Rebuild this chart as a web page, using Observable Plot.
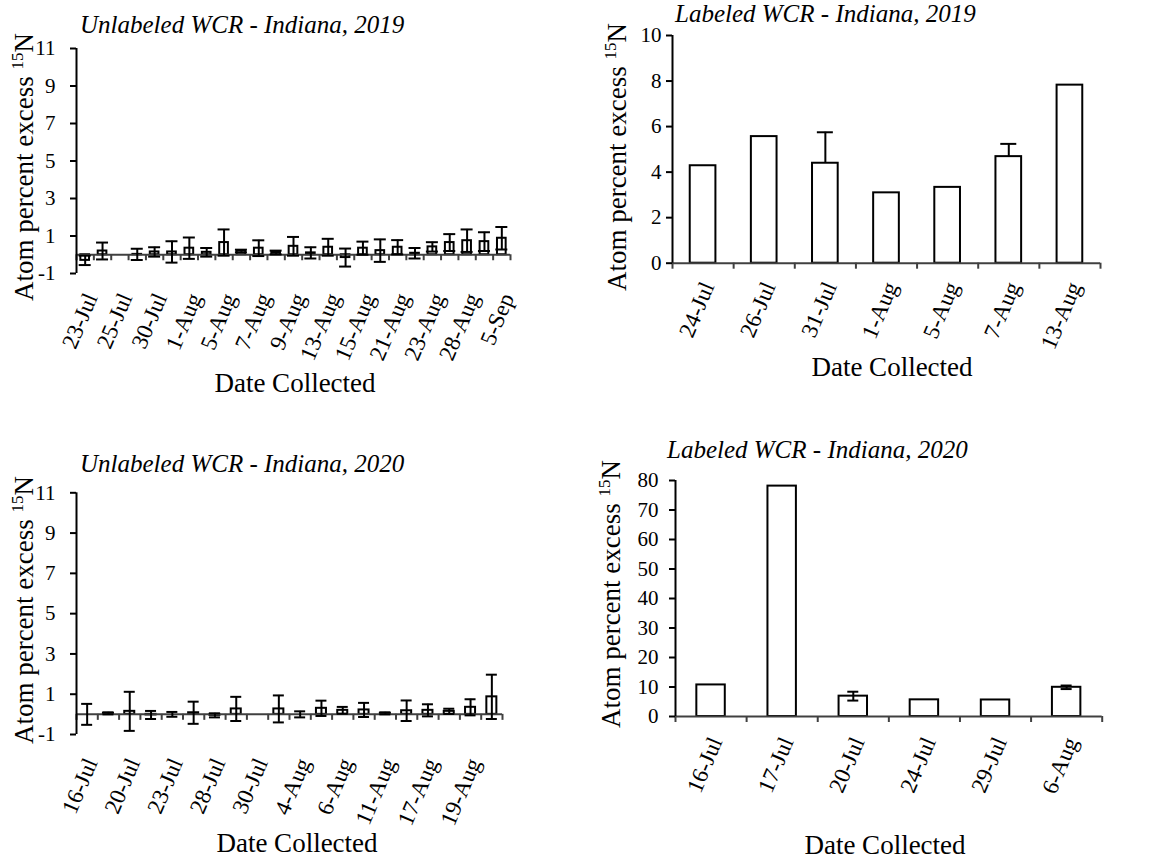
<!DOCTYPE html>
<html><head><meta charset="utf-8">
<script src="https://cdn.jsdelivr.net/npm/d3@7"></script>
<script src="https://cdn.jsdelivr.net/npm/@observablehq/plot@0.6"></script>
<style>
body{margin:0;background:#fff;}
#root{position:relative;width:1167px;height:867px;overflow:hidden;font-family:"Liberation Serif","Times New Roman",Times,"Nimbus Roman","DejaVu Serif",serif;color:#000;background:#fff}
.abs{position:absolute;white-space:nowrap;line-height:1}
.title{font-style:italic;font-size:25px}
.ylab{font-size:27px;transform:translate(-50%,-50%) rotate(-90deg)}
.ylab sup{font-size:17px;vertical-align:0.55em;line-height:0}
.xlab{font-size:27px;transform:translateX(-50%)}
.panel{position:absolute}
</style></head><body><div id="root"></div>
<script>
// ---- Unlabeled WCR - Indiana, 2019 (25 collections, every other date labeled)
const u19Ticks = ["23-Jul","25-Jul","30-Jul","1-Aug","5-Aug","7-Aug","9-Aug","13-Aug","15-Aug","21-Aug","23-Aug","28-Aug","5-Sep"];
const u19Mean = [-0.3,0.2,0,0.02,0.15,0.15,0.35,0.13,0.65,0.2,0.35,0.12,0.45,0.1,0.4,-0.15,0.35,0.22,0.4,0.08,0.42,0.65,0.75,0.7,0.88];
const u19Err  = [0.25,0.45,0,0.3,0.25,0.57,0.57,0.23,0.7,0.07,0.42,0.1,0.5,0.3,0.45,0.48,0.35,0.6,0.38,0.28,0.25,0.45,0.6,0.5,0.6];
// ---- Labeled WCR - Indiana, 2019
const l19Dates = ["24-Jul","26-Jul","31-Jul","1-Aug","5-Aug","7-Aug","13-Aug"];
const l19Mean = [4.28,5.56,4.39,3.09,3.33,4.68,7.82];
const l19Err  = [0,0,1.36,0,0,0.56,0];
// ---- Unlabeled WCR - Indiana, 2020 (20 collections, every other date labeled)
const u20Ticks = ["16-Jul","20-Jul","23-Jul","28-Jul","30-Jul","4-Aug","6-Aug","11-Aug","17-Aug","19-Aug"];
const u20Mean = [0,0.05,0.15,-0.03,0,0.08,-0.05,0.27,0,0.27,0,0.3,0.2,0.22,0.05,0.18,0.2,0.15,0.35,0.87];
const u20Err  = [0.52,0.05,0.97,0.2,0.12,0.55,0.1,0.6,0,0.67,0.15,0.38,0.17,0.35,0.05,0.51,0.3,0.13,0.4,1.1];
// ---- Labeled WCR - Indiana, 2020
const l20Dates = ["16-Jul","17-Jul","20-Jul","24-Jul","29-Jul","6-Aug"];
const l20Mean = [10.7,78.1,6.9,5.65,5.6,9.9];
const l20Err  = [0,0,1.5,0,0,0.6];

const yTicksU = [-1,1,3,5,7,9,11];
const yTicksL19 = [0,2,4,6,8,10];
const yTicksL20 = [0,10,20,30,40,50,60,70,80];

const AX = "#404040";
const FONT = '"Liberation Serif","Times New Roman",Times,"Nimbus Roman","DejaVu Serif",serif';
const root = document.getElementById("root");

function panel(cfg){
  const n = cfg.mean.length;
  const rows = cfg.mean.map((v,i)=>({i, v, e: cfg.err[i]}));
  const errRows = rows.filter(d=>d.e>0);
  const tickPos = cfg.ticks.map((t,k)=>k*cfg.every+0.5);
  const fmt = new Map(tickPos.map((p,k)=>[p,cfg.ticks[k]]));
  const bf = cfg.barFrac;
  const lo = d => cfg.plusOnly ? d.v : d.v - d.e;
  const chart = Plot.plot({
    width: cfg.w, height: cfg.h,
    marginLeft: cfg.ml, marginRight: cfg.mr, marginTop: cfg.mt, marginBottom: cfg.mb,
    style: {fontFamily: FONT, background: "transparent", color: "black", overflow: "visible"},
    x: {type: "linear", domain: [0, n]},
    y: {domain: cfg.ydom},
    marks: [
      Plot.rectY(rows, {x1: d=>d.i+(1-bf)/2, x2: d=>d.i+(1+bf)/2, y1: 0, y2: "v", fill: "white", stroke: "black", strokeWidth: 2}),
      Plot.ruleY([0], {x1: 0, x2: n, stroke: AX, strokeWidth: 2}),
      Plot.ruleX(d3.range(n+1), {x: d=>d, y1: 0, y2: 0, insetBottom: -6, stroke: AX, strokeWidth: 2}),
      Plot.ruleX([0], {y1: cfg.ydom[0], y2: cfg.ydom[1], stroke: "black", strokeWidth: 2}),
      Plot.ruleX(errRows, {x: d=>d.i+0.5, y1: lo, y2: d=>d.v+d.e, stroke: "black", strokeWidth: 2}),
      Plot.ruleY(errRows, {y: d=>d.v+d.e, x1: d=>d.i+0.5, x2: d=>d.i+0.5, insetLeft: -cfg.cap/2, insetRight: -cfg.cap/2, stroke: "black", strokeWidth: 2}),
      cfg.plusOnly ? null : Plot.ruleY(errRows, {y: d=>d.v-d.e, x1: d=>d.i+0.5, x2: d=>d.i+0.5, insetLeft: -cfg.cap/2, insetRight: -cfg.cap/2, stroke: "black", strokeWidth: 2}),
      Plot.axisY(cfg.yticks, {anchor: "left", tickSize: 6, tickPadding: cfg.ypad, fontSize: 21, label: null, stroke: "black", strokeWidth: 2, color: "black", tickFormat: d=>String(d)}),
      Plot.axisX(tickPos, {anchor: "bottom", tickSize: 0, tickPadding: cfg.xpad, tickRotate: -67, dx: cfg.xdx, fontSize: 23, label: null, tickFormat: d=>fmt.get(d), color: "black"})
    ]
  });
  chart.classList.add("panel");
  chart.style.left = cfg.left + "px";
  chart.style.top = cfg.top + "px";
  chart.style.fontFamily = FONT;
  root.appendChild(chart);

  const t = document.createElement("div");
  t.className = "abs title";
  t.textContent = cfg.title;
  t.style.left = cfg.tx + "px"; t.style.top = (cfg.tb - 21) + "px";
  root.appendChild(t);

  const yl = document.createElement("div");
  yl.className = "abs ylab";
  yl.innerHTML = "Atom percent excess <sup>15</sup>N";
  yl.style.left = cfg.ylx + "px"; yl.style.top = cfg.yly + "px";
  root.appendChild(yl);

  const xl = document.createElement("div");
  xl.className = "abs xlab";
  xl.textContent = "Date Collected";
  xl.style.left = cfg.xlx + "px"; xl.style.top = (cfg.xlb - 22.6) + "px";
  root.appendChild(xl);
}

panel({title: "Unlabeled WCR - Indiana, 2019", mean: u19Mean, err: u19Err, ticks: u19Ticks, every: 2,
  ydom: [-1, 11], yticks: yTicksU, barFrac: 0.5, cap: 12, plusOnly: false,
  left: 0, top: 0, w: 520, h: 420, ml: 76, mr: 10, mt: 48, mb: 147, ypad: 15, xpad: 21, xdx: 6,
  tx: 80, tb: 33, ylx: 24, yly: 167, xlx: 295, xlb: 393});

panel({title: "Labeled WCR - Indiana, 2019", mean: l19Mean, err: l19Err, ticks: l19Dates, every: 1,
  ydom: [0, 10], yticks: yTicksL19, barFrac: 0.42, cap: 16, plusOnly: true,
  left: 580, top: 0, w: 530, h: 420, ml: 92, mr: 10, mt: 35, mb: 157.3, ypad: 5, xpad: 20, xdx: 5,
  tx: 675, tb: 22, ylx: 617, yly: 157, xlx: 892, xlb: 377});

panel({title: "Unlabeled WCR - Indiana, 2020", mean: u20Mean, err: u20Err, ticks: u20Ticks, every: 2,
  ydom: [-1, 11], yticks: yTicksU, barFrac: 0.47, cap: 11, plusOnly: false,
  left: 0, top: 430, w: 520, h: 437, ml: 76, mr: 18, mt: 62.3, mb: 133, ypad: 15, xpad: 25, xdx: 4,
  tx: 80, tb: 471.7, ylx: 24, yly: 610, xlx: 297, xlb: 853});

panel({title: "Labeled WCR - Indiana, 2020", mean: l20Mean, err: l20Err, ticks: l20Dates, every: 1,
  ydom: [0, 80], yticks: yTicksL20, barFrac: 0.40, cap: 11, plusOnly: false,
  left: 580, top: 430, w: 530, h: 437, ml: 95, mr: 8.3, mt: 50, mb: 151, ypad: 11, xpad: 22, xdx: 5,
  tx: 667, tb: 458, ylx: 611, yly: 594, xlx: 885, xlb: 855});
</script>
</body></html>
